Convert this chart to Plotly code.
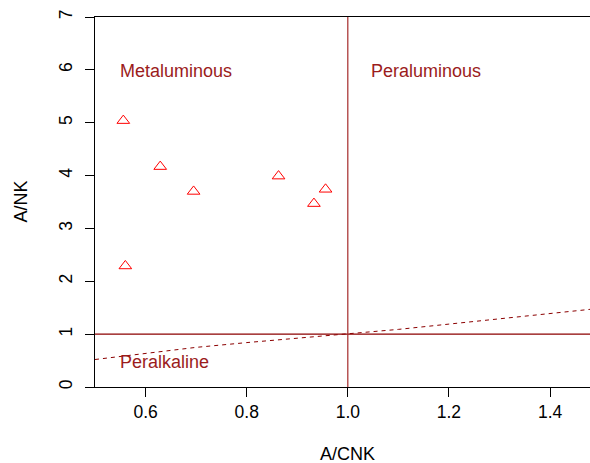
import plotly.graph_objects as go

# Sample data (A/CNK vs A/NK)
acnk = [0.556, 0.629, 0.695, 0.863, 0.933, 0.956, 0.560]
ank = [5.04, 4.17, 3.70, 3.99, 3.47, 3.74, 2.29]

# Peralkaline boundary (dashed)
bnd_x = [0.5, 0.6, 0.7, 0.8, 0.9, 1.0, 1.1, 1.2, 1.3, 1.4, 1.5]
bnd_y = [0.52, 0.635, 0.75, 0.84, 0.925, 1.0, 1.09, 1.19, 1.29, 1.39, 1.49]

# Field labels
field_names = ["Metaluminous", "Peraluminous", "Peralkaline"]
field_x = [0.545, 1.041, 0.545]
field_y = [5.98, 5.98, 0.48]

x_ticks = [0.6, 0.8, 1.0, 1.2, 1.4]
y_ticks = [0, 1, 2, 3, 4, 5, 6, 7]

FONT = "Liberation Sans, Arial, sans-serif"
DR = "#8B0000"

fig = go.Figure()
fig.add_trace(go.Scatter(x=bnd_x, y=bnd_y, mode="lines",
                         line=dict(color=DR, width=1, dash="4px,4px"),
                         hoverinfo="skip", showlegend=False))
fig.add_trace(go.Scatter(x=acnk, y=ank, mode="markers",
                         marker=dict(symbol="triangle-up-open", size=11,
                                     color="red", line=dict(width=1, color="red")),
                         showlegend=False))

fig.add_hline(y=1, line=dict(color=DR, width=1.2))
fig.add_vline(x=1, line=dict(color="#A52A2A", width=1.2))

for t, x, y in zip(field_names, field_x, field_y):
    fig.add_annotation(x=x, y=y, text=t, showarrow=False, xanchor="left",
                       yanchor="middle", font=dict(family=FONT, size=18, color="#9B1C1C"))

fig.add_annotation(x=1.0, y=-0.18, xref="x", yref="paper", text="A/CNK",
                   showarrow=False, xanchor="center", yanchor="middle",
                   font=dict(family=FONT, size=18, color="black"))
fig.add_annotation(x=(20.5 - 95) / 495, y=0.5, xref="paper", yref="paper", text="A/NK",
                   showarrow=False, textangle=-90, xanchor="center", yanchor="middle",
                   font=dict(family=FONT, size=18, color="black"))

fig.update_layout(
    width=590, height=463,
    margin=dict(l=95, r=0, t=17, b=76),
    paper_bgcolor="white", plot_bgcolor="white",
    font=dict(family=FONT, size=17.5, color="black"),
    xaxis=dict(range=[0.5, 1.479], tickvals=x_ticks, tickformat=".1f",
               ticks="outside", ticklen=9, tickcolor="black", showgrid=False,
               zeroline=False, showline=True, linecolor="black", linewidth=1,
               mirror=True),
    yaxis=dict(range=[0, 7], tickvals=y_ticks, tickangle=-90,
               ticks="outside", ticklen=9, tickcolor="black", showgrid=False,
               zeroline=False, showline=True, linecolor="black", linewidth=1,
               ticklabelstandoff=6),
)

fig.write_html("out.html")
